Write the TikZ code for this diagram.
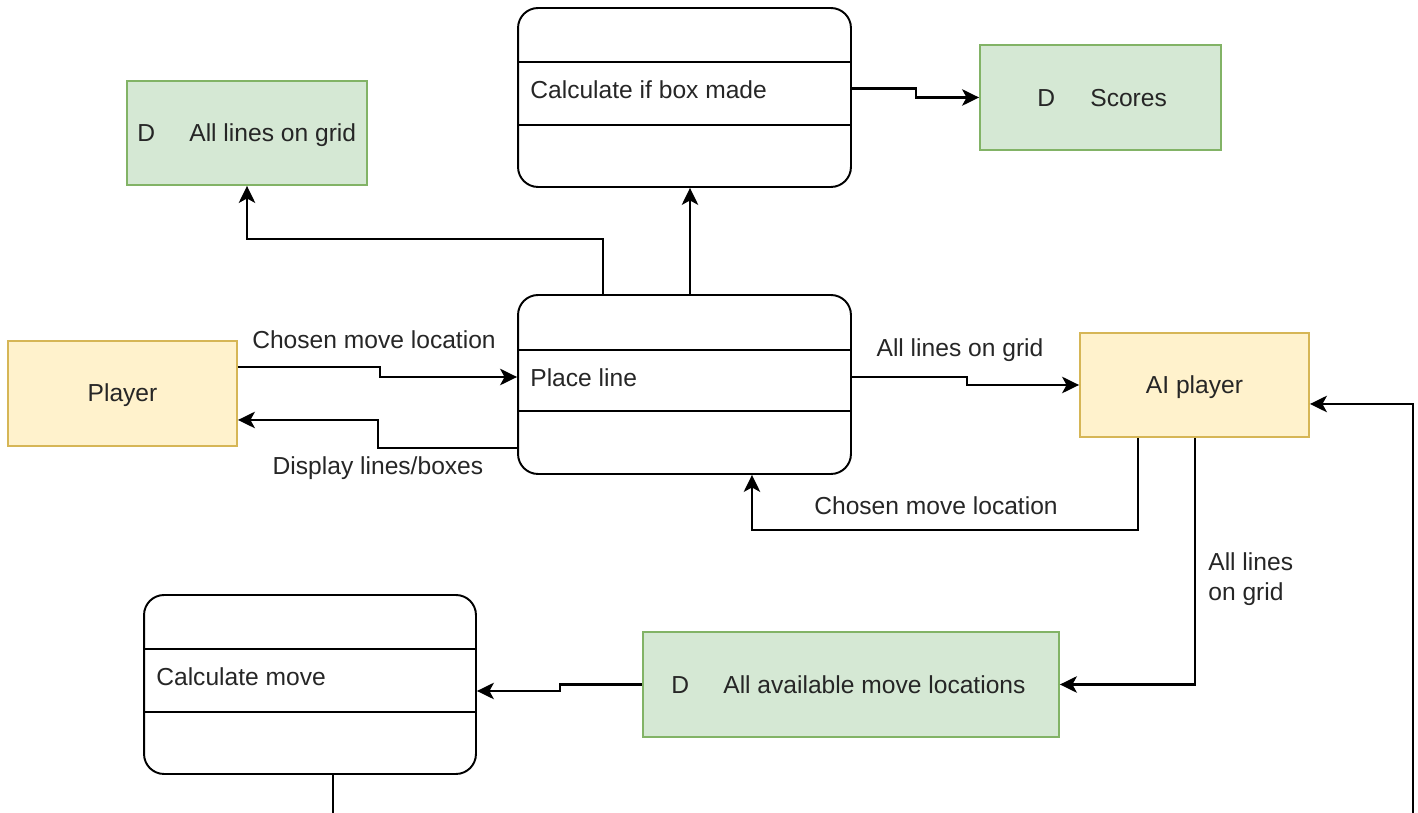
\documentclass[tikz,border=0pt]{standalone}
\usepackage{fontspec}
\setmainfont{Liberation Sans}
\usetikzlibrary{arrows.meta,calc}
\definecolor{storefill}{HTML}{D5E8D4}
\definecolor{storeline}{HTML}{82B366}
\definecolor{extfill}{HTML}{FFF2CC}
\definecolor{extline}{HTML}{D6B656}
\definecolor{ink}{HTML}{262626}
\tikzset{
  every node/.style={font=\fontsize{14}{17}\selectfont, text=ink},
  process/.style={draw=black, line width=1.1pt, rounded corners=0.4cm,
    minimum width=6.66cm, minimum height=3.58cm, inner sep=0pt},
  store/.style={draw=storeline, fill=storefill, line width=1.1pt,
    minimum height=2.1cm, inner sep=0pt},
  entity/.style={draw=extline, fill=extfill, line width=1.1pt,
    minimum width=4.58cm, minimum height=2.1cm, inner sep=0pt},
  conn/.style={draw=black, line width=1.2pt,
    -{Stealth[length=0.34cm, width=0.33cm, inset=0.09cm]}},
  divider/.style={draw=black, line width=1.1pt},
  lbl/.style={inner sep=0pt},
}
\begin{document}
\begin{tikzpicture}[x=0.02cm, y=-0.02cm]
\useasboundingbox (0,0) rectangle (1418,813);

% processes (rounded boxes with three compartments)
\node[process] (calc) at (684.5,97.5) {};
\draw[divider] (calc.west |- 0,62) -- (calc.east |- 0,62);
\draw[divider] (calc.west |- 0,125) -- (calc.east |- 0,125);
\node[lbl, anchor=base west] (calctxt) at (530,99) {Calculate if box made};

\node[process] (place) at (684.5,384.5) {};
\draw[divider] (place.west |- 0,350) -- (place.east |- 0,350);
\draw[divider] (place.west |- 0,411) -- (place.east |- 0,411);
\node[lbl, anchor=base west] (placetxt) at (530,387) {Place line};

\node[process, minimum width=6.64cm] (move) at (310,684.5) {};
\draw[divider] (move.west |- 0,649) -- (move.east |- 0,649);
\draw[divider] (move.west |- 0,712) -- (move.east |- 0,712);
\node[lbl, anchor=base west] (movetxt) at (156,686) {Calculate move};

% data stores
\node[store, minimum width=4.8cm, minimum height=2.08cm] (grid) at (247,133) {};
\node[lbl, anchor=base west] (gridd) at (137,142) {D};
\node[lbl, anchor=base west] (gridtxt) at (189,142) {All lines on grid};

\node[store, minimum width=4.82cm] (scores) at (1100.5,97.5) {};
\node[lbl, anchor=base west] (scoresd) at (1037,107) {D};
\node[lbl, anchor=base west] (scorestxt) at (1090,107) {Scores};

\node[store, minimum width=8.32cm] (avail) at (851,684.5) {};
\node[lbl, anchor=base west] (availd) at (671,694) {D};
\node[lbl, anchor=base west] (availtxt) at (723,694) {All available move locations};

% external entities
\node[entity] (player) at (122.5,393.5) {};
\node[lbl, anchor=base] (playertxt) at (122.5,402) {Player};
\node[entity, minimum height=2.08cm] (ai) at (1194.5,385) {};
\node[lbl, anchor=base] (aitxt) at (1194.5,394) {AI player};

% flows
\draw[conn] ([yshift=0.18cm]calc.east) -- ++(64,0) |- (scores.west);
\draw[conn] ([xshift=-1.63cm]place.north) -- ++(0,-55) -| (grid.south);
\draw[conn] ([xshift=0.11cm]place.north) -- ([xshift=0.11cm]calc.south);
\draw[conn] ([yshift=0.53cm]player.east) -- ++(142,0) |- ([yshift=0.15cm]place.west);
\draw[conn] ([yshift=-1.27cm]place.west) -- ++(-139,0) |- ([yshift=-0.53cm]player.east);
\draw[conn] ([yshift=0.15cm]place.east) -- ++(115,0) |- (ai.west);
\draw[conn] ([xshift=-1.13cm]ai.south) -- ++(0,92) -| ([xshift=1.35cm]place.south);
\draw[conn] ([xshift=0.01cm]ai.south) |- (avail.east);
\draw[conn] (avail.west) -- ++(-82,0) |- ([yshift=-0.13cm]move.east);
\coordinate (loop) at (1413,816);
\draw[conn] ([xshift=0.46cm]move.south) |- (loop) |- ([yshift=-0.38cm]ai.east);

% flow labels
\node[lbl, anchor=base] (l1) at (374,349) {Chosen move location};
\node[lbl, anchor=base] (l2) at (378,475) {Display lines/boxes};
\node[lbl, anchor=base] (l3) at (960,357) {All lines on grid};
\node[lbl, anchor=base] (l4) at (936,515) {Chosen move location};
\node[lbl, anchor=base west] (l5a) at (1208,571) {All lines};
\node[lbl, anchor=base west] (l5b) at (1208,601) {on grid};
\end{tikzpicture}
\end{document}
